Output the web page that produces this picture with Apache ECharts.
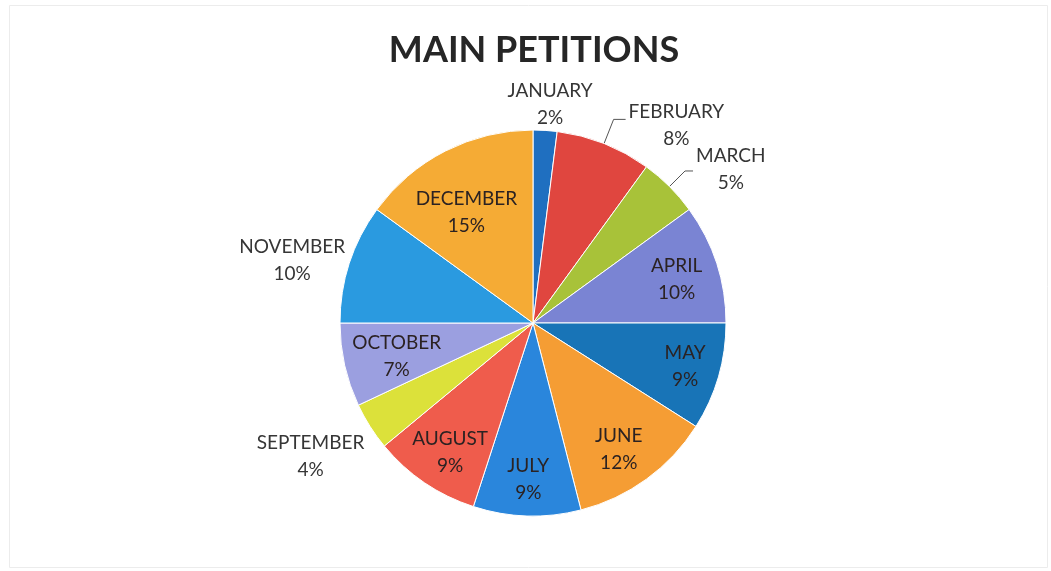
<!DOCTYPE html>
<html><head><meta charset="utf-8">
<script src="https://cdn.jsdelivr.net/npm/echarts@6/dist/echarts.min.js"></script>
<style>html,body{margin:0;padding:0;background:#fff}#c{width:1051px;height:571px}</style>
</head><body><div id="c"></div>
<script>
// ---- data ----
const months = ['JANUARY','FEBRUARY','MARCH','APRIL','MAY','JUNE','JULY','AUGUST','SEPTEMBER','OCTOBER','NOVEMBER','DECEMBER'];
const shares = [2, 8, 5, 10, 9, 12, 9, 9, 4, 7, 10, 15];
const chartTitle = 'MAIN PETITIONS';
const outsideMonths = ['JANUARY','FEBRUARY','MARCH','SEPTEMBER','NOVEMBER'];

// ---- styles ----
const sliceColors = ['#1f6fc0','#e0463f','#a8c239','#7a84d3','#1874b7','#f59d34','#2a86dc','#ef5c4c','#dce13a','#9b9fe0','#2a9ae0','#f5ab35'];
const lineSettings = { FEBRUARY: {length: 26, length2: 12}, MARCH: {length: 22, length2: 8} };
const labelShift = {
  JANUARY: {align: 'center', dx: -29, dy: -11},
  FEBRUARY: {dy: 6},
  MARCH: {dy: -2},
  NOVEMBER: {dx: 43, dy: 2},
  SEPTEMBER: {dx: 40, dy: 22},
  DECEMBER: {dx: 2, dy: 24},
  APRIL: {dy: 3},
  MAY: {dx: 7, dy: 1},
  JUNE: {dx: -3, dy: 4},
  JULY: {dy: 5},
  AUGUST: {dx: 2, dy: 4},
  OCTOBER: {dx: 11}
};
const FONT = 'Lato';
const CENTER = [533, 323];
const R = 193;

const chart = echarts.init(document.getElementById('c'), null, {renderer: 'canvas'});

const pieData = months.map((m, i) => ({ name: m, value: shares[i], itemStyle: {color: sliceColors[i]} }));
const labelData = months.map((m, i) => {
  const out = outsideMonths.includes(m);
  const ls = lineSettings[m];
  return {
    name: m, value: shares[i],
    label: { position: out ? 'outside' : 'inside', color: out ? '#363636' : '#2b2222' },
    labelLine: ls ? {show: true, length: ls.length, length2: ls.length2} : {show: false}
  };
});

const rich = {
  n: {fontFamily: FONT, fontSize: 19, lineHeight: 27, align: 'center'},
  p: {fontFamily: FONT, fontSize: 19, lineHeight: 27, align: 'center'}
};

chart.setOption({
  backgroundColor: '#ffffff',
  animation: false,
  title: {
    text: chartTitle, left: 529, top: 27, textAlign: 'center',
    textStyle: {fontFamily: FONT, fontWeight: 'bold', fontSize: 36, color: '#262626'}
  },
  graphic: [{
    type: 'rect', left: 7, top: 3, silent: true,
    shape: {width: 1038, height: 562},
    style: {fill: 'none', stroke: '#ececec', lineWidth: 1}
  }],
  series: [
    {
      type: 'pie', center: CENTER, radius: R, startAngle: 90, clockwise: true,
      silent: true, label: {show: false}, labelLine: {show: false},
      itemStyle: {borderColor: '#ffffff', borderWidth: 1},
      data: pieData
    },
    {
      type: 'pie', center: CENTER, radius: [103, R], startAngle: 90, clockwise: true,
      silent: true, avoidLabelOverlap: false,
      itemStyle: {color: 'rgba(0,0,0,0)', borderWidth: 0},
      label: {
        show: true, formatter: '{n|{b}}\n{p|{c}%}', rich: rich, distanceToLabelLine: 3
      },
      labelLine: {lineStyle: {color: '#555', width: 1}, smooth: false},
      labelLayout: function (p) {
        if (p.seriesIndex !== 1) return {};
        const s = labelShift[months[p.dataIndex]];
        return s ? Object.assign({}, s) : {};
      },
      data: labelData
    }
  ]
});
</script></body></html>
